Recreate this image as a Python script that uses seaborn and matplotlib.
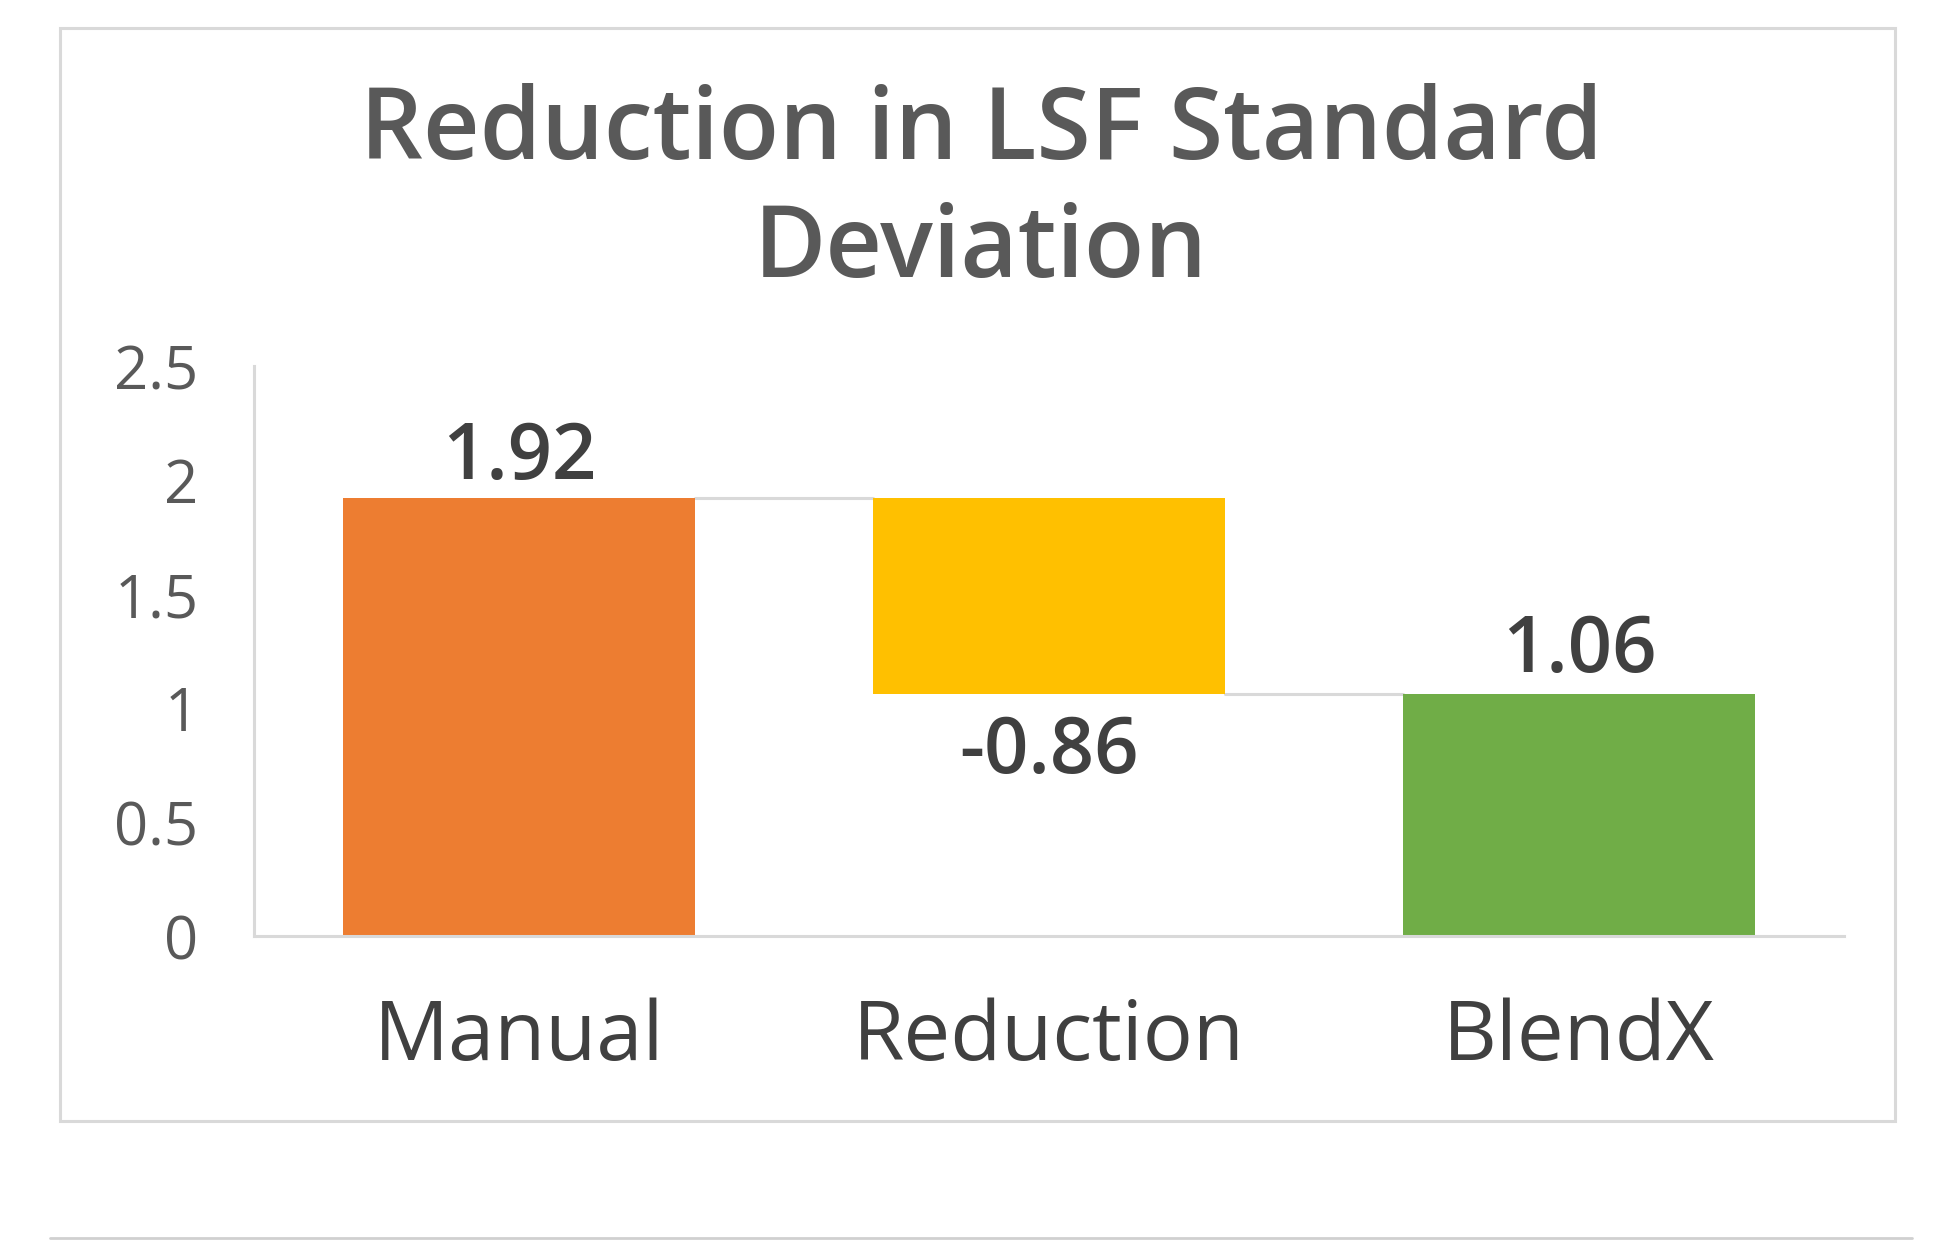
import matplotlib
matplotlib.use("Agg")
import matplotlib.pyplot as plt
import seaborn as sns
import numpy as np
from matplotlib.patches import Rectangle
from matplotlib.lines import Line2D

# ---- data ----
categories = ["Manual", "Reduction", "BlendX"]
values = [1.92, -0.86, 1.06]
bar_colors = ["#ED7D31", "#FFC000", "#70AD47"]
y_ticks = [0, 0.5, 1, 1.5, 2, 2.5]
y_tick_labels = ["0", "0.5", "1", "1.5", "2", "2.5"]
value_labels = ["1.92", "-0.86", "1.06"]
title_lines = ["Reduction in LSF Standard", "Deviation"]

# waterfall bottoms derived from the data
bottoms = [0, values[0], 0]

sns.set_theme(style="white")
plt.rcParams["font.family"] = ["Open Sans", "DejaVu Sans"]

fig = plt.figure(figsize=(19.6, 12.42), dpi=100)
fig.patch.set_facecolor("white")

# outer chart border
fig.patches.append(Rectangle((60 / 1960, 1 - 1121 / 1242), (1895 - 60) / 1960, (1121 - 28) / 1242,
                             transform=fig.transFigure, fill=False, edgecolor="#d9d9d9",
                             linewidth=2.2, zorder=0))
# faint bottom line of the card
fig.lines.append(Line2D([50 / 1960, 1912 / 1960], [1 - 1238 / 1242] * 2, transform=fig.transFigure,
                        color="#d0d0d0", linewidth=2))

ax = fig.add_axes([254 / 1960, 1 - 936 / 1242, (1844 - 254) / 1960, (936 - 366) / 1242])

bw = 0.663
sns.barplot(x=categories, y=values, bottom=bottoms, color=bar_colors[0], width=bw,
            saturation=1, ax=ax, zorder=2)
for patch, c in zip(ax.patches, bar_colors):
    patch.set_facecolor(c)
    patch.set_edgecolor("none")

# connector lines
tops = [values[0], values[0] + values[1]]
for i, lvl in enumerate(tops):
    ax.plot([i + bw / 2, i + 1 - bw / 2], [lvl, lvl], color="#d9d9d9", linewidth=2.2, zorder=1)

ax.set_xlim(-0.5, 2.5)
ax.set_ylim(0, 2.5)
ax.set_yticks(y_ticks)
ax.set_yticklabels(y_tick_labels)
ax.set_xlabel("")
ax.set_ylabel("")

for s in ["top", "right"]:
    ax.spines[s].set_visible(False)
for s in ["left", "bottom"]:
    ax.spines[s].set_color("#d9d9d9")
    ax.spines[s].set_linewidth(2.2)

ax.tick_params(axis="y", length=0, pad=40, labelsize=43, labelcolor="#595959")
ax.tick_params(axis="x", length=0, pad=44, labelsize=60, labelcolor="#404040")
for lab in ax.get_xticklabels():
    lab.set_fontweight("medium")

# data labels
ends = [values[0], values[0] + values[1], values[2]]
offsets = [14, -57, 16]
for i, (lbl, e, off) in enumerate(zip(value_labels, ends, offsets)):
    ax.annotate(lbl, xy=(i, e), xytext=(0, off), textcoords="offset points",
                ha="center", va="baseline", fontsize=56, fontweight="semibold",
                color="#404040")

# title
fig.text(981 / 1960, 1 - 159 / 1242, title_lines[0], ha="center", va="baseline",
         fontsize=71, fontweight="semibold", color="#595959")
fig.text(981 / 1960, 1 - 277.5 / 1242, title_lines[1], ha="center", va="baseline",
         fontsize=71, fontweight="semibold", color="#595959")

fig.savefig("out.png", dpi=100, facecolor="white")
